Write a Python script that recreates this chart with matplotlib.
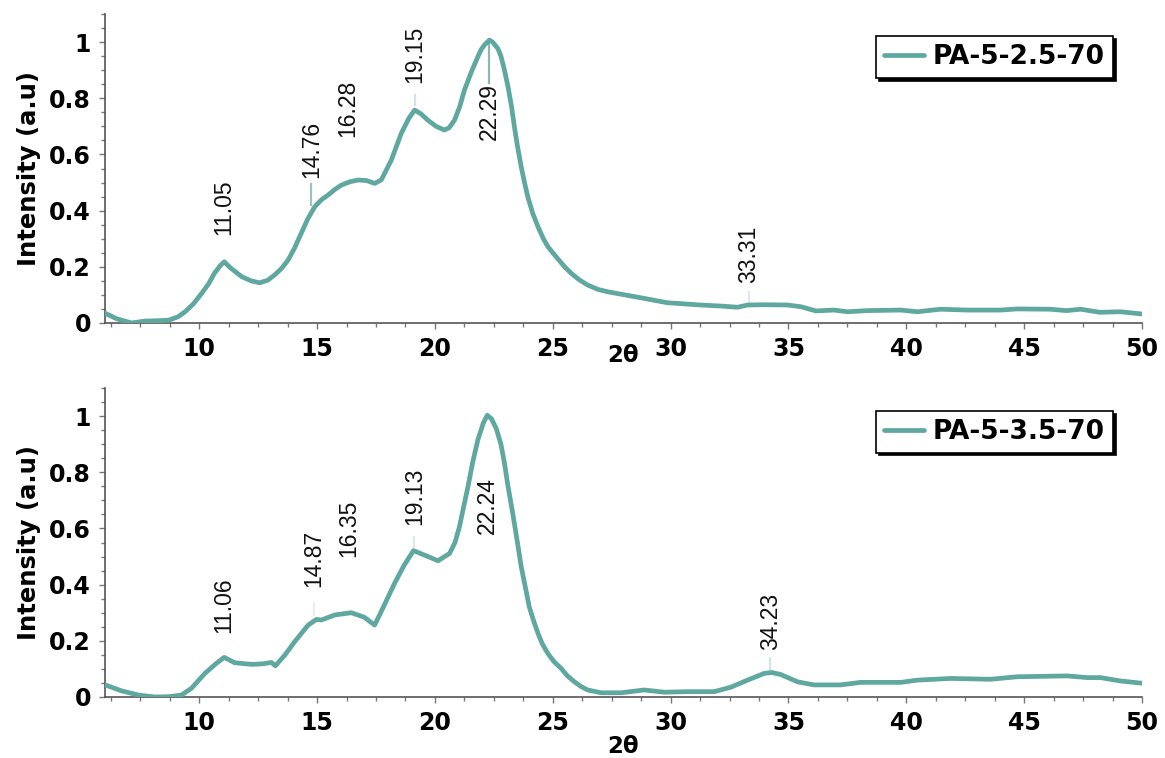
import matplotlib
matplotlib.use("Agg")
import matplotlib.pyplot as plt
from matplotlib.ticker import MultipleLocator, FuncFormatter

# ---- diffraction patterns (2θ in degrees, normalised intensity) ----
theta_a = [6.0, 6.5, 7.13, 7.7, 8.2, 8.7, 9.1, 9.4, 9.75, 10.1, 10.4, 10.65, 10.9, 11.06,
           11.3, 11.8, 12.2, 12.56, 12.9, 13.2, 13.5, 13.77, 14.05, 14.33, 14.6, 14.9,
           15.2, 15.46, 15.75, 16.03, 16.4, 16.74, 17.1, 17.44, 17.72, 18.15, 18.57,
           18.9, 19.14, 19.4, 19.7, 20.05, 20.4, 20.6, 20.83, 21.05, 21.25, 21.55,
           21.82, 21.95, 22.1, 22.31, 22.45, 22.67, 22.8, 22.95, 23.1, 23.25, 23.37,
           23.5, 23.66, 23.8, 23.94, 24.15, 24.37, 24.6, 24.79, 25.0, 25.2, 25.5,
           25.78, 26.1, 26.48, 26.9, 27.33, 28.46, 29.87, 31.28, 32.2, 32.84, 33.26,
           34.0, 34.96, 35.52, 36.16, 36.93, 37.5, 38.35, 39.76, 40.47, 41.45, 42.58,
           44.0, 44.7, 46.1, 46.8, 47.4, 48.2, 49.07, 50.0]
inten_a = [0.035, 0.015, 0.0, 0.007, 0.008, 0.01, 0.022, 0.04, 0.068, 0.105, 0.14, 0.178,
           0.205, 0.218, 0.198, 0.165, 0.15, 0.143, 0.152, 0.171, 0.195, 0.224, 0.268,
           0.32, 0.37, 0.414, 0.44, 0.455, 0.475, 0.491, 0.503, 0.509, 0.507, 0.497,
           0.509, 0.58, 0.675, 0.73, 0.758, 0.745, 0.722, 0.7, 0.687, 0.695, 0.722,
           0.77, 0.829, 0.895, 0.948, 0.972, 0.99, 1.007, 1.0, 0.977, 0.95, 0.9, 0.841,
           0.77, 0.699, 0.63, 0.556, 0.5, 0.449, 0.39, 0.343, 0.3, 0.272, 0.25, 0.23,
           0.2, 0.177, 0.155, 0.135, 0.12, 0.111, 0.094, 0.072, 0.064, 0.06, 0.056,
           0.064, 0.065, 0.064, 0.058, 0.043, 0.046, 0.04, 0.044, 0.046, 0.04, 0.049,
           0.046, 0.046, 0.05, 0.049, 0.044, 0.049, 0.038, 0.04, 0.032]

theta_b = [6.04, 6.7, 7.41, 8.12, 8.69, 9.25, 9.67, 10.24, 10.7, 11.06, 11.5, 12.22,
           12.7, 13.06, 13.23, 13.63, 14.05, 14.62, 14.97, 15.18, 15.75, 16.45, 17.0,
           17.44, 17.72, 18.29, 18.7, 19.09, 19.56, 20.13, 20.62, 20.85, 21.04, 21.2,
           21.4, 21.6, 21.82, 22.05, 22.22, 22.4, 22.6, 22.8, 22.95, 23.1, 23.3, 23.5,
           23.66, 23.85, 24.0, 24.2, 24.37, 24.55, 24.79, 25.05, 25.35, 25.62, 25.92,
           26.2, 26.48, 27.05, 27.9, 28.88, 29.73, 30.72, 31.85, 32.56, 33.26, 33.97,
           34.3, 34.67, 35.0, 35.38, 36.08, 37.21, 38.06, 39.76, 40.47, 41.88, 43.57,
           44.7, 46.82, 47.67, 48.23, 49.08, 50.0]
inten_b = [0.042, 0.022, 0.007, 0.0, 0.001, 0.007, 0.031, 0.084, 0.118, 0.141, 0.122,
           0.116, 0.118, 0.123, 0.111, 0.149, 0.197, 0.256, 0.276, 0.274, 0.292, 0.3,
           0.284, 0.256, 0.304, 0.405, 0.47, 0.521, 0.505, 0.485, 0.511, 0.55, 0.606,
           0.67, 0.748, 0.835, 0.915, 0.975, 1.003, 0.99, 0.956, 0.9, 0.832, 0.75,
           0.654, 0.55, 0.464, 0.385, 0.321, 0.268, 0.227, 0.19, 0.155, 0.126, 0.102,
           0.075, 0.054, 0.037, 0.025, 0.015, 0.015, 0.025, 0.017, 0.019, 0.019, 0.035,
           0.06, 0.084, 0.087, 0.08, 0.068, 0.054, 0.043, 0.043, 0.052, 0.052, 0.06,
           0.066, 0.063, 0.072, 0.075, 0.069, 0.069, 0.057, 0.049]

series_names = ["PA-5-2.5-70", "PA-5-3.5-70"]

# peak positions labelled on each pattern
peaks_a = [11.05, 14.76, 16.28, 19.15, 22.29, 33.31]
peaks_b = [11.06, 14.87, 16.35, 19.13, 22.24, 34.23]

# label placement: (text anchor y, vertical alignment, marker y0, marker y1, marker colour)
place_a = [(0.313, "bottom", None, None, None),
           (0.516, "bottom", 0.420, 0.495, "#9dc3c1"),
           (0.662, "bottom", None, None, None),
           (0.854, "bottom", 0.776, 0.811, "#d5e3e2"),
           (0.854, "top", 0.854, 1.005, "#8fb5b3"),
           (0.142, "bottom", 0.075, 0.110, "#dde8e7")]
place_b = [(0.228, "bottom", None, None, None),
           (0.391, "bottom", 0.292, 0.335, "#e6eeed"),
           (0.498, "bottom", None, None, None),
           (0.612, "bottom", 0.534, 0.569, "#dde8e7"),
           (0.783, "top", None, None, None),
           (0.167, "bottom", 0.096, 0.139, "#d3e2e1")]

LINE_COLOR = "#5fa8a0"
AX_COLOR = "#555555"

plt.rcParams["font.family"] = "DejaVu Sans"

fig = plt.figure(figsize=(11.65, 7.58), dpi=100)
ax_top = fig.add_axes([0.0901, 0.5739, 0.8902, 0.4076])
ax_bot = fig.add_axes([0.0901, 0.0805, 0.8902, 0.4076])


def fmt_y(v, _pos):
    if abs(v) < 1e-9:
        return "0"
    if abs(v - 1) < 1e-9:
        return "1"
    return f"{v:.1f}"


def style_axes(ax):
    ax.set_xlim(6, 50)
    ax.set_ylim(0, 1.1)
    for side in ("top", "right"):
        ax.spines[side].set_visible(False)
    for side in ("left", "bottom"):
        ax.spines[side].set_color(AX_COLOR)
        ax.spines[side].set_linewidth(1.2)
    ax.xaxis.set_major_locator(MultipleLocator(5))
    ax.xaxis.set_minor_locator(MultipleLocator(1.25))
    ax.yaxis.set_major_locator(MultipleLocator(0.2))
    ax.yaxis.set_minor_locator(MultipleLocator(0.05))
    ax.yaxis.set_major_formatter(FuncFormatter(fmt_y))
    ax.xaxis.set_major_formatter(FuncFormatter(lambda v, p: f"{v:.0f}" if v > 6 else ""))
    ax.tick_params(which="both", direction="out", color="#777777", width=1.0,
                   labelsize=17, labelcolor="black")
    ax.tick_params(which="major", length=4, pad=6)
    ax.tick_params(which="minor", length=3)
    for lab in ax.get_xticklabels() + ax.get_yticklabels():
        lab.set_fontweight("bold")
    ax.set_ylabel("Intensity (a.u)", fontsize=17.5, fontweight="bold", labelpad=6)


def draw(ax, x, y, name, peaks, place, legend_y, xlabel_pad):
    style_axes(ax)
    ax.plot(x, y, color=LINE_COLOR, lw=3.4, solid_capstyle="round",
            solid_joinstyle="round", label=name, zorder=3)
    for pk, (ty, va, y0, y1, mc) in zip(peaks, place):
        if y0 is not None:
            ax.plot([pk, pk], [y0, y1], color=mc, lw=1.6, zorder=2)
        ax.text(pk, ty, f"{pk:.2f}", rotation=90, ha="center", va=va,
                fontsize=16.5, family=["Liberation Sans"], color="#111111", zorder=4)
    ax.set_xlabel("2θ", fontsize=16.5, fontweight="bold", labelpad=xlabel_pad)
    leg = ax.legend(loc="upper right", bbox_to_anchor=(0.972, legend_y),
                    borderaxespad=0, fancybox=False, frameon=True,
                    shadow={"color": "black", "alpha": 1.0, "ox": 2, "oy": -2},
                    prop={"weight": "bold", "size": 19},
                    handlelength=1.5, handletextpad=0.35, borderpad=0.3)
    leg.get_frame().set_edgecolor("black")
    leg.get_frame().set_linewidth(1.2)


draw(ax_top, theta_a, inten_a, series_names[0], peaks_a, place_a, 0.929, -12)
draw(ax_bot, theta_b, inten_b, series_names[1], peaks_b, place_b, 0.926, 0)

fig.savefig("out.png", dpi=100)
